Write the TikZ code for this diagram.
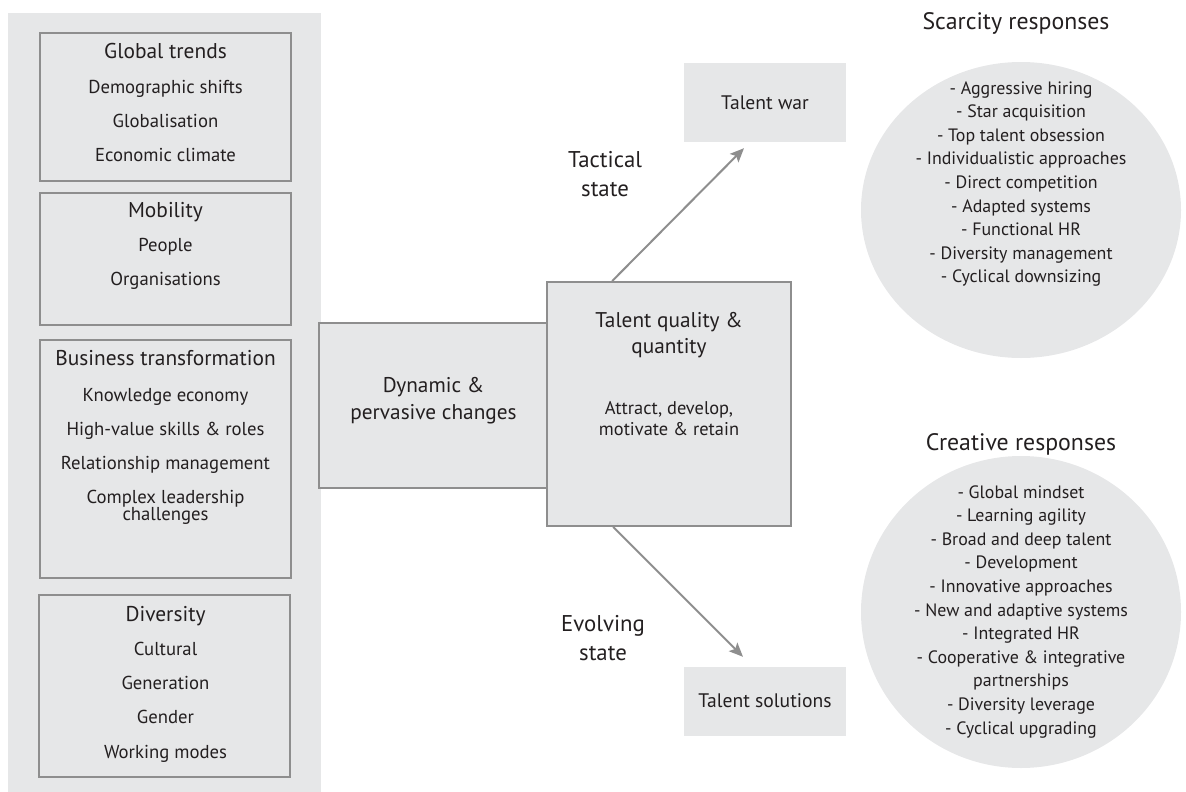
\documentclass[tikz,border=0pt]{standalone}
\usepackage{fontspec}
\setmainfont{PT Sans}
\usetikzlibrary{arrows.meta,shapes.geometric}
\definecolor{fillgray}{HTML}{E6E7E8}
\definecolor{edgegray}{HTML}{8E8E8E}
\definecolor{ink}{HTML}{231F20}
\tikzset{
  panel/.style={fill=fillgray, draw=none, inner sep=0, outer sep=0},
  framebox/.style={fill=fillgray, draw=edgegray, line width=1.8pt, inner sep=0},
  plainbox/.style={fill=fillgray, draw=none, inner sep=0},
  blob/.style={ellipse, fill=fillgray, draw=none, inner sep=0},
  txt/.style={text=ink, anchor=base, inner sep=0},
  ttl/.style={txt, font=\fontsize{21.4}{25}\selectfont},
  itm/.style={txt, font=\fontsize{18.7}{22}\selectfont},
  mid/.style={txt, font=\fontsize{21.3}{25}\selectfont},
  midsmall/.style={txt, font=\fontsize{18.4}{22}\selectfont},
  outbox/.style={txt, font=\fontsize{19.6}{23}\selectfont},
  state/.style={txt, font=\fontsize{22.8}{27}\selectfont},
  ctitle/.style={txt, font=\fontsize{23.8}{28}\selectfont},
  citm/.style={txt, font=\fontsize{17.9}{21}\selectfont},
  conn/.style={draw=edgegray, line width=2pt, -{Stealth[length=14pt,width=12pt,inset=3pt]}},
}
\begin{document}
\begin{tikzpicture}[x=1pt,y=-1pt]
\useasboundingbox (0,0) rectangle (1186,792);

% left column: background panel and the four driver boxes
\node[panel, minimum width=313, minimum height=779] (panel) at (164.5,402.5) {};
\node[framebox, minimum width=251, minimum height=148] (gt)  at (165.5,107) {};
\node[framebox, minimum width=251, minimum height=132] (mob) at (165.5,259) {};
\node[framebox, minimum width=251, minimum height=238] (bt)  at (165.5,459) {};
\node[framebox, minimum width=251, minimum height=182] (div) at (164.5,686) {};

\node[ttl] (gt0) at (165.5,59) {Global trends};
\foreach \t [count=\i] in {Demographic shifts, Globalisation, Economic climate}
  \node[itm] (gt\i) at (165.5,{59+34*\i}) {\t};

\node[ttl] (mob0) at (165.5,217) {Mobility};
\foreach \t [count=\i] in {People, Organisations}
  \node[itm] (mob\i) at (165.5,{217+34*\i}) {\t};

\node[ttl] (bt0) at (165.5,365) {Business transformation};
\foreach \t [count=\i] in {Knowledge economy, High-value skills \& roles, Relationship management, Complex leadership}
  \node[itm] (bt\i) at (165.5,{367+34*\i}) {\t};
\node[itm] (bt5) at (165.5,520) {challenges};

\node[ttl] (div0) at (165.5,621) {Diversity};
\foreach \t [count=\i] in {Cultural, Generation, Gender, Working modes}
  \node[itm] (div\i) at (165.5,{621+34.3*\i}) {\t};

% centre boxes
\node[framebox, minimum width=229, minimum height=165] (dyn) at (433.5,405.5) {};
\node[framebox, minimum width=244, minimum height=244] (tq)  at (669,404) {};
\node[mid] (dyn1) at (433.5,392) {Dynamic \&};
\node[mid] (dyn2) at (433.5,419) {pervasive changes};
\node[mid] (tq1) at (669,327) {Talent quality \&};
\node[mid] (tq2) at (669,353) {quantity};
\node[midsmall] (tq3) at (669,414) {Attract, develop,};
\node[midsmall] (tq4) at (669,435) {motivate \& retain};

% outcome boxes
\node[plainbox, minimum width=162, minimum height=79] (war) at (765,102.5) {};
\node[outbox] (warl) at (765,109) {Talent war};
\node[plainbox, minimum width=162, minimum height=69] (sol) at (765,701.5) {};
\node[outbox] (soll) at (765,707) {Talent solutions};

% state arrows
\draw[conn] ([xshift=66pt]tq.north west) -- ([xshift=-21pt,yshift=-6pt]war.south);
\draw[conn] ([xshift=67pt]tq.south west) -- ([xshift=-22pt,yshift=10pt]sol.north);
\node[state] (tac1) at (605,167) {Tactical};
\node[state] (tac2) at (605,196) {state};
\node[state] (evo1) at (603,631) {Evolving};
\node[state] (evo2) at (603,660) {state};

% response clusters
\node[blob, minimum width=320, minimum height=296] (scar) at (1021,210) {};
\node[ctitle] (scart) at (1016,30) {Scarcity responses};
\foreach \t [count=\i from 0] in {- Aggressive hiring, - Star acquisition, - Top talent obsession, - Individualistic approaches, - Direct competition, - Adapted systems, - Functional HR, - Diversity management, - Cyclical downsizing}
  \node[citm] (scar\i) at (1021,{94+23.6*\i}) {\t};

\node[blob, minimum width=320, minimum height=312] (crea) at (1021,612) {};
\node[ctitle] (creat) at (1021,450) {Creative responses};
\foreach \t [count=\i from 0] in {- Global mindset, - Learning agility, - Broad and deep talent, - Development, - Innovative approaches, - New and adaptive systems, - Integrated HR, - Cooperative \& integrative, partnerships, - Diversity leverage, - Cyclical upgrading}
  \node[citm] (crea\i) at (1021,{498+23.6*\i}) {\t};
\end{tikzpicture}
\end{document}
